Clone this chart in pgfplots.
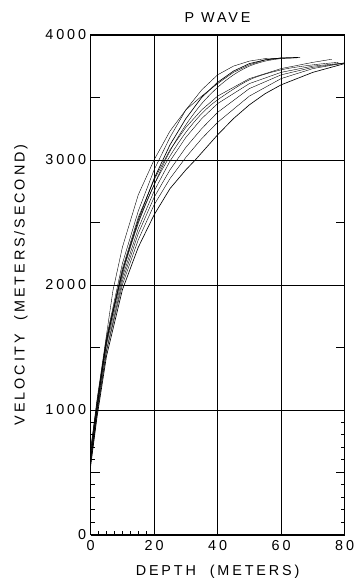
\documentclass[border=0pt]{standalone}
\usepackage{fontspec}
\setmainfont{Liberation Sans}[LetterSpace=20]
\usepackage{pgfplots}
\pgfplotsset{compat=1.18}
\begin{document}
\begin{tikzpicture}
\begin{axis}[
  scale only axis,
  width=255bp, height=502bp,
  xmin=0, xmax=80, ymin=0, ymax=4000,
  xtick={0,20,40,60,80},
  ytick={0,1000,2000,3000,4000},
  minor xtick={2.5,5,7.5,10,12.5,15,17.5},
  minor ytick={100,200,300,400,600,700,800,900},
  extra y ticks={500,1500,2500,3500},
  extra y tick labels={},
  extra tick style={grid=none, major tick length=9bp},
  xtick pos=bottom, ytick pos=both,
  grid=major,
  major grid style={black, line width=0.6bp},
  axis line style={black, line width=1.1bp},
  major tick length=0bp,
  minor tick length=4bp,
  tick style={black, line width=0.7bp},
  every tick label/.append style={font=\fontsize{14.5}{15}\selectfont},
  /pgf/number format/assume math mode=true,
  /pgf/number format/set thousands separator={},
  xticklabel style={yshift=-2bp},
  yticklabel style={xshift=-1bp},
  title={P WAVE},
  title style={font=\fontsize{14.5}{15}\selectfont, yshift=3bp},
  xlabel={DEPTH\ \ (METERS)},
  ylabel={VELOCITY\ \ (METERS/SECOND)},
  label style={font=\fontsize{14.5}{15}\selectfont},
  xlabel style={yshift=-8bp},
  ylabel style={yshift=11bp},
  cycle list={{black, solid, line width=0.65bp, smooth, tension=0.6, mark=none}},
]
% Group ending near 62-66 m
\addplot coordinates {(0,680) (2,1080) (5,1600) (7,1950) (10,2300) (15,2720) (20,3000) (25,3230) (30,3400) (35,3510) (40,3610) (45,3700) (50,3760) (55,3800) (60,3815) (65,3815)};
\addplot coordinates {(0,650) (2,1060) (5,1580) (10,2170) (15,2590) (20,2920) (25,3180) (30,3400) (35,3560) (40,3680) (45,3750) (50,3790) (55,3810) (62,3815)};
\addplot coordinates {(0,600) (2,1020) (5,1550) (10,2110) (15,2520) (20,2850) (25,3120) (30,3330) (35,3500) (40,3620) (45,3710) (50,3770) (55,3800) (60,3815) (66,3820)};
\addplot coordinates {(0,620) (2,1000) (5,1530) (10,2080) (15,2490) (20,2800) (25,3070) (30,3280) (35,3450) (40,3580) (45,3680) (50,3750) (55,3790) (60,3810) (64,3815)};
% Curve ending near 76 m
\addplot coordinates {(0,680) (2,1060) (5,1570) (10,2130) (15,2540) (20,2840) (25,3080) (30,3260) (35,3400) (40,3510) (50,3650) (60,3730) (70,3780) (76,3805)};
% Group ending at 80 m
\addplot coordinates {(0,600) (2,1000) (5,1520) (10,2060) (15,2450) (20,2750) (25,2990) (30,3180) (35,3330) (40,3450) (50,3610) (60,3700) (70,3750) (80,3775)};
\addplot coordinates {(0,560) (2,960) (5,1480) (10,2030) (15,2410) (20,2700) (25,2920) (30,3100) (35,3250) (40,3380) (50,3570) (60,3680) (70,3740) (80,3775)};
\addplot coordinates {(0,580) (2,980) (5,1470) (10,2000) (15,2360) (20,2640) (25,2850) (30,3020) (35,3170) (40,3300) (50,3510) (60,3650) (70,3730) (80,3775)};
\addplot coordinates {(0,550) (2,940) (5,1430) (10,1960) (15,2300) (20,2560) (25,2770) (30,2920) (33,3000) (40,3200) (45,3330) (50,3440) (55,3530) (60,3600) (70,3700) (80,3770)};
\addplot coordinates {(0,640) (2,1030) (5,1550) (10,2100) (15,2500) (20,2800) (25,3030) (30,3220) (35,3370) (40,3480) (50,3640) (60,3720) (70,3760) (78,3780)};
\end{axis}
\path[use as bounding box] (-91bp,-45bp) rectangle (267bp,537bp);
\end{tikzpicture}
\end{document}
